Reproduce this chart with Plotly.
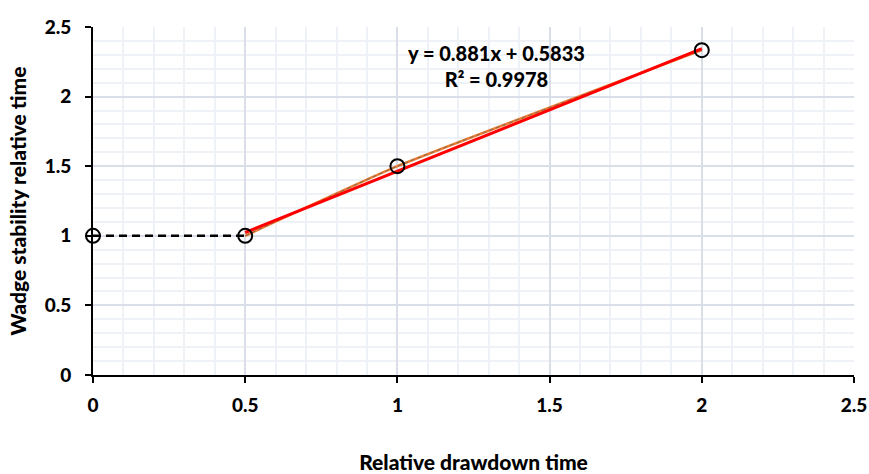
import numpy as np
import plotly.graph_objects as go

x_vals = [0, 0.5, 1, 2]
y_vals = [1, 1, 1.5, 2.3333]
fit_x = [0.5, 1, 2]
fit_y = [1, 1.5, 2.3333]
x_ticks = [0, 0.5, 1, 1.5, 2, 2.5]
y_ticks = [0, 0.5, 1, 1.5, 2, 2.5]
eq_text = "y = 0.881x + 0.5833<br>R² = 0.9978"

slope, intercept = np.polyfit(fit_x, fit_y, 1)
tx = np.array([fit_x[0], fit_x[-1]])
ty = slope * tx + intercept

FONT = "Lato"
W = 900

fig = go.Figure()
fig.add_trace(go.Scatter(x=x_vals[:2], y=y_vals[:2], mode="lines",
                         line=dict(color="black", width=2.5, dash="8px,5px"),
                         showlegend=False, hoverinfo="skip"))
fig.add_trace(go.Scatter(x=fit_x, y=fit_y, mode="lines", line_shape="spline",
                         line=dict(color="#ED7D31", width=2.5, smoothing=0.45),
                         showlegend=False, hoverinfo="skip"))
fig.add_trace(go.Scatter(x=fit_x, y=fit_y, mode="lines", line_shape="spline",
                         line=dict(color="#7A6A55", width=1, dash="4px,3px", smoothing=0.45),
                         showlegend=False, hoverinfo="skip"))
fig.add_trace(go.Scatter(x=tx, y=ty, mode="lines",
                         line=dict(color="#FF0000", width=3),
                         showlegend=False, hoverinfo="skip"))
fig.add_trace(go.Scatter(x=x_vals, y=y_vals, mode="markers", cliponaxis=False,
                         marker=dict(symbol="circle-open", size=14,
                                     color="black", line=dict(width=2)),
                         showlegend=False))

fig.add_annotation(x=1.327, y=2.22, xref="x", yref="y", text=eq_text,
                   showarrow=False, align="center",
                   font=dict(family=FONT, size=20, color="black", weight=W))

axis_common = dict(
    showline=True, linecolor="black", linewidth=2,
    ticks="outside", ticklen=6, tickwidth=1.5, tickcolor="black",
    showgrid=True, gridcolor="#D9DEE8", gridwidth=1.5,
    minor=dict(dtick=0.1, showgrid=True, gridcolor="#EEF1F5", gridwidth=1.5),
    zeroline=False, mirror=False, automargin=False,
    tickfont=dict(family=FONT, size=19, color="black", weight=W),
)

fig.update_xaxes(range=[0, 2.5], tickvals=x_ticks, ticktext=[str(v) for v in x_ticks],
                 ticklabelstandoff=6,
                 title=dict(text="Relative drawdown time", standoff=45,
                            font=dict(family=FONT, size=21, color="black", weight=W)),
                 **axis_common)
fig.update_yaxes(range=[0, 2.5], tickvals=y_ticks, ticktext=[str(v) for v in y_ticks],
                 ticklabelstandoff=10,
                 title=dict(text="Wadge stability relative time", standoff=12,
                            font=dict(family=FONT, size=21, color="black", weight=W)),
                 **axis_common)

fig.update_layout(width=869, height=474, margin=dict(l=93, r=15, t=27, b=99),
                  plot_bgcolor="white", paper_bgcolor="white")

fig.write_html("out.html")
